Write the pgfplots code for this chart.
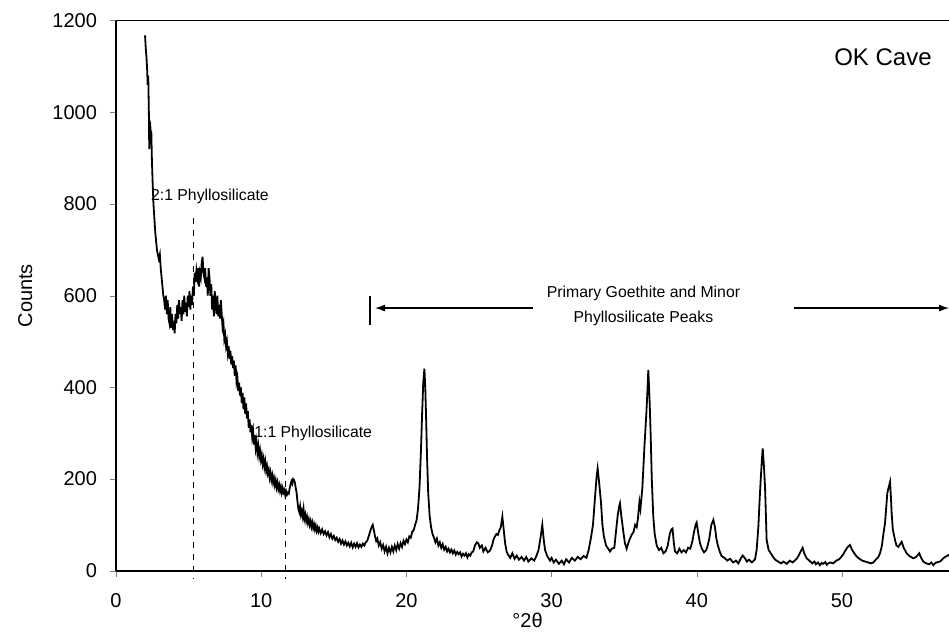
\documentclass[border=0pt]{standalone}
\usepackage{pgfplots}
\pgfplotsset{compat=1.18}
\usepackage{fontspec}
\setmainfont{Liberation Sans}
\usetikzlibrary{arrows.meta}

\pgfplotstableread{
x y
2.00 1168
2.05 1140
2.10 1120
2.15 1090
2.18 1060
2.22 1080
2.26 1010
2.29 920
2.32 980
2.36 975
2.40 930
2.43 960
2.47 900
2.52 850
2.58 800
2.64 770
2.70 740
2.76 720
2.82 700
2.88 690
2.95 680
3.02 690
3.08 660
3.14 640
3.20 620
3.26 600
3.32 590
3.38 570
3.44 600
3.50 560
3.56 590
3.62 550
3.68 540
3.74 575
3.80 530
3.86 560
3.92 525
3.98 545
4.04 518
4.10 560
4.16 540
4.22 580
4.28 550
4.34 590
4.40 560
4.46 575
4.52 545
4.58 590
4.64 560
4.70 600
4.76 565
4.82 585
4.88 555
4.94 600
5.00 575
5.06 610
5.12 570
5.18 600
5.24 580
5.30 620
5.36 600
5.42 650
5.48 630
5.54 655
5.60 640
5.66 660
5.72 620
5.78 650
5.84 640
5.90 670
5.96 685
6.02 650
6.08 640
6.14 660
6.20 620
6.26 640
6.32 600
6.38 660
6.44 640
6.50 600
6.56 625
6.62 570
6.68 600
6.74 555
6.80 610
6.86 580
6.92 560
6.98 600
7.04 555
7.10 580
7.16 550
7.22 590
7.28 560
7.34 530
7.40 540
7.46 505
7.52 515
7.58 490
7.64 500
7.70 475
7.76 490
7.82 462
7.88 480
7.94 450
8.00 468
8.06 442
8.12 458
8.18 425
8.24 448
8.30 412
8.36 422
8.42 392
8.48 410
8.54 382
8.60 400
8.66 365
8.72 388
8.78 352
8.84 378
8.90 342
8.96 365
9.02 332
9.08 348
9.14 312
9.20 330
9.26 302
9.32 318
9.38 292
9.44 305
9.50 275
9.56 296
9.62 268
9.68 282
9.74 258
9.80 272
9.86 250
9.92 262
9.98 242
10.04 252
10.10 233
10.16 244
10.22 226
10.28 238
10.34 218
10.40 228
10.46 212
10.52 220
10.58 203
10.64 214
10.70 198
10.76 208
10.82 192
10.88 202
10.94 187
11.00 197
11.06 182
11.12 192
11.18 178
11.24 187
11.30 174
11.36 183
11.42 170
11.48 180
11.54 171
11.60 176
11.66 164
11.72 173
11.78 166
11.84 170
11.90 168
11.96 180
12.02 188
12.08 195
12.14 190
12.20 200
12.26 198
12.32 192
12.38 180
12.44 170
12.50 150
12.56 135
12.62 128
12.68 140
12.74 122
12.80 130
12.86 118
12.92 134
12.98 113
13.04 122
13.10 108
13.16 117
13.22 104
13.28 112
13.34 100
13.40 108
13.46 96
13.52 105
13.58 93
13.64 101
13.70 90
13.76 98
13.82 87
13.88 94
13.94 85
14.00 92
14.10 82
14.20 90
14.30 80
14.40 86
14.50 77
14.60 84
14.70 73
14.80 80
14.90 70
15.00 76
15.10 67
15.20 72
15.30 63
15.40 69
15.50 59
15.60 66
15.70 57
15.80 64
15.90 55
16.00 61
16.10 53
16.20 61
16.30 51
16.40 59
16.50 52
16.60 60
16.70 51
16.80 57
16.90 52
17.00 59
17.10 55
17.20 62
17.30 65
17.40 75
17.50 85
17.60 95
17.68 100
17.76 88
17.84 75
17.92 65
18.00 70
18.10 55
18.20 62
18.30 48
18.40 56
18.50 42
18.60 52
18.70 38
18.80 50
18.90 40
19.00 52
19.10 42
19.20 55
19.30 45
19.40 58
19.50 48
19.60 60
19.70 52
19.80 65
19.90 58
20.00 68
20.10 62
20.20 75
20.30 72
20.40 85
20.50 88
20.60 100
20.70 110
20.80 135
20.90 180
21.00 260
21.08 340
21.16 410
21.24 441
21.30 400
21.36 330
21.42 250
21.50 170
21.60 120
21.70 95
21.80 80
21.90 72
22.00 62
22.10 70
22.20 55
22.30 62
22.40 50
22.50 58
22.60 46
22.70 52
22.80 42
22.90 48
23.00 40
23.10 46
23.20 38
23.30 44
23.40 35
23.50 41
23.60 36
23.70 40
23.80 31
23.90 37
24.00 33
24.10 38
24.20 29
24.30 36
24.40 33
24.50 40
24.60 42
24.72 55
24.85 62
24.95 60
25.05 50
25.20 55
25.30 42
25.45 50
25.60 40
25.76 44
25.90 55
26.00 68
26.10 75
26.20 80
26.30 78
26.40 88
26.50 95
26.61 118
26.70 90
26.80 60
26.90 42
27.00 35
27.15 28
27.30 38
27.45 26
27.60 33
27.75 24
27.93 30
28.10 22
28.25 30
28.40 20
28.60 27
28.80 22
28.95 32
29.10 45
29.25 75
29.36 100
29.45 70
29.55 45
29.70 32
29.89 22
30.00 28
30.15 18
30.30 24
30.50 15
30.70 22
30.85 14
31.00 25
31.20 18
31.40 28
31.60 22
31.80 30
32.00 25
32.20 32
32.40 28
32.55 45
32.70 70
32.85 100
32.99 160
33.10 205
33.17 223
33.25 200
33.40 150
33.50 100
33.60 75
33.75 55
33.90 48
34.02 42
34.15 48
34.32 50
34.45 90
34.55 120
34.65 140
34.71 147
34.80 120
34.94 85
35.05 60
35.17 48
35.30 62
35.40 70
35.51 78
35.65 85
35.75 100
35.86 95
35.95 115
36.05 150
36.12 135
36.25 180
36.40 275
36.52 340
36.59 385
36.66 438
36.74 380
36.82 300
36.90 200
37.00 120
37.10 80
37.24 55
37.40 45
37.55 50
37.70 38
37.85 42
38.00 55
38.15 82
38.25 90
38.33 92
38.42 60
38.50 42
38.65 38
38.80 48
38.95 40
39.10 45
39.25 40
39.40 50
39.55 48
39.70 65
39.81 85
39.92 100
39.99 105
40.10 82
40.22 60
40.35 48
40.50 40
40.65 45
40.75 55
40.86 70
41.00 100
41.14 111
41.25 95
41.35 70
41.45 55
41.60 40
41.71 32
41.90 28
42.10 22
42.29 26
42.50 18
42.70 22
42.86 16
43.00 25
43.16 33
43.30 28
43.45 20
43.60 24
43.80 18
44.01 25
44.12 45
44.24 96
44.32 150
44.40 198
44.48 240
44.54 267
44.62 230
44.70 183
44.76 120
44.81 67
44.95 45
45.10 38
45.25 30
45.40 24
45.60 20
45.80 16
45.96 20
46.20 15
46.40 22
46.60 18
46.88 26
47.05 35
47.20 45
47.29 50
47.40 38
47.57 27
47.75 22
47.95 16
48.10 20
48.20 14
48.35 18
48.48 12
48.60 17
48.70 15
48.85 19
48.95 13
49.10 17
49.20 18
49.40 16
49.60 22
49.80 25
49.95 30
50.09 36
50.25 45
50.40 52
50.55 56
50.70 45
50.85 38
51.01 31
51.20 26
51.40 22
51.60 20
51.80 18
52.00 16
52.16 18
52.35 25
52.50 30
52.62 38
52.75 55
52.85 80
52.96 103
53.05 140
53.12 169
53.20 180
53.31 194
53.37 160
53.42 125
53.50 90
53.65 67
53.75 55
53.88 52
54.00 58
54.11 63
54.25 50
54.45 38
54.65 32
54.91 27
55.10 30
55.32 38
55.45 28
55.60 20
55.80 16
56.00 14
56.15 18
56.29 12
56.40 16
56.50 18
56.75 20
57.00 28
57.32 34
57.37 32
}\xrd

\begin{document}
\begin{tikzpicture}
\begin{axis}[
  scale only axis,
  width=416.5pt, height=275pt,
  xmin=0, xmax=57.37,
  ymin=0, ymax=1200,
  axis x line=bottom, axis y line=left,
  axis line style={-, line width=0.8pt},
  tick align=outside,
  major tick length=3pt,
  xtick={0,10,...,50},
  ytick={0,200,...,1200},
  tick label style={font=\fontsize{10}{12}\selectfont},
  /pgf/number format/assume math mode=true,
  /pgf/number format/1000 sep={},
  xticklabel style={yshift=-5pt},
  yticklabel style={xshift=-3pt},
  xlabel={°2θ},
  ylabel={Counts},
  label style={font=\fontsize{10}{12}\selectfont},
  xlabel style={at={(axis description cs:0.494,-0.09)}, anchor=center},
  ylabel style={at={(axis description cs:-0.109,0.5)}, anchor=center},
  clip=false,
]
% frame line on top
\draw[line width=0.8pt] (rel axis cs:0,1) -- (rel axis cs:1,1);
% peak markers
\draw[dashed, line width=0.6pt] (axis cs:5.34,769) -- (axis cs:5.34,-17);
\draw[dashed, line width=0.6pt] (axis cs:11.7,274) -- (axis cs:11.7,-17);
\node[anchor=west, inner sep=0pt, font=\fontsize{7.9}{9.5}\selectfont] at (axis cs:2.39,817) {2:1 Phyllosilicate};
\node[anchor=west, inner sep=0pt, font=\fontsize{7.9}{9.5}\selectfont] at (axis cs:9.5,300) {1:1 Phyllosilicate};

\addplot[black, line width=0.9pt] table[x=x, y=y] {\xrd};

% goethite range
\draw[line width=0.6pt] (axis cs:17.49,599) -- (axis cs:17.49,536);
\draw[line width=0.6pt, -{Latex[length=5pt,width=3.5pt]}] (axis cs:28.69,573) -- (axis cs:17.84,573);
\draw[line width=0.6pt, -{Latex[length=5pt,width=3.5pt]}] (axis cs:46.69,573) -- (axis cs:57.37,573);
\node[align=center, inner sep=0pt, font=\fontsize{7.9}{12.5}\selectfont] at (axis cs:36.33,577) {Primary Goethite and Minor\\Phyllosilicate Peaks};
\node[anchor=east, inner sep=0pt, font=\fontsize{12}{14}\selectfont] at (axis cs:56.2,1120) {OK Cave};

\coordinate (sw) at (rel axis cs:0,0);
\coordinate (ne) at (rel axis cs:1,1);
\end{axis}
\pgfresetboundingbox
\path ([xshift=-58pt,yshift=-31pt]sw) rectangle ([yshift=10.35pt]ne);
\end{tikzpicture}
\end{document}
